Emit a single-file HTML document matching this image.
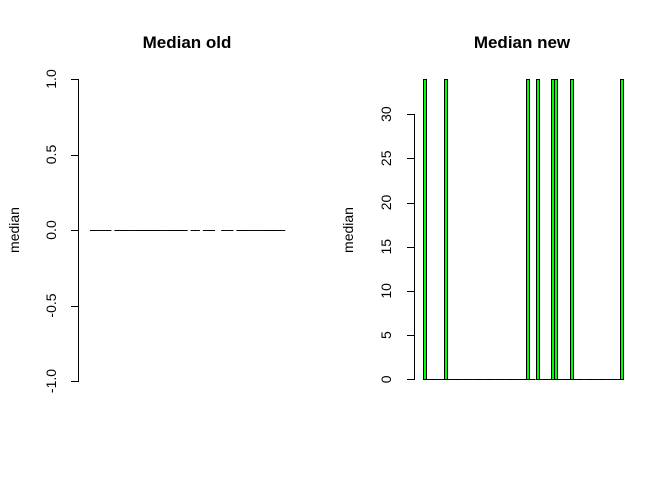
<!DOCTYPE html>
<html><head><meta charset="utf-8"><style>
body{margin:0;background:#fff}
svg{font-family:"Liberation Sans",Arial,sans-serif}
</style></head><body>
<svg width="672" height="480" viewBox="0 0 672 480">
<g id="left">
<text x="187" y="48" text-anchor="middle" font-weight="bold" font-size="17">Median old</text>
<text transform="translate(19,230) rotate(-90)" text-anchor="middle" font-size="14">median</text>
</g>
<g id="right">
<text x="522" y="48" text-anchor="middle" font-weight="bold" font-size="17">Median new</text>
<text transform="translate(353,230) rotate(-90)" text-anchor="middle" font-size="14">median</text>
</g>
</svg>
<script>
const NS="http://www.w3.org/2000/svg";
const oldTicks=[-1,-0.5,0,0.5,1];
const oldTickLabels=["-1.0","-0.5","0.0","0.5","1.0"];
const newTicks=[0,5,10,15,20,25,30];
const newTickLabels=["0","5","10","15","20","25","30"];
const nBars=64;
const oldMissing=[7,32,36,41,42,47];
const newHighIdx=[0,7,33,36,41,42,47,63];
const newHighVal=[34,34,34,34,34,34,34,34];
const oldValues=[];for(let i=0;i<nBars;i++)oldValues.push(oldMissing.includes(i)?null:0);
const newValues=[];for(let i=0;i<nBars;i++){const k=newHighIdx.indexOf(i);newValues.push(k>=0?newHighVal[k]:0);}
function mk(tag,at,parent){const e=document.createElementNS(NS,tag);for(const k in at)e.setAttribute(k,at[k]);parent.appendChild(e);return e;}
const L=document.getElementById('left'),R=document.getElementById('right');
const yL=v=>230-v*151, xL=i=>90+i*3.05;
let ax=mk('line',{x1:78.5,x2:78.5,y1:yL(1),y2:yL(-1),stroke:'#000'},L);

oldTicks.forEach((t,i)=>{
 const y=Math.round(yL(t))+0.5;
 const tk=mk('line',{x1:71,x2:79,y1:y,y2:y,stroke:'#000'},L);
 
 const tx=mk('text',{transform:`translate(56,${yL(t)}) rotate(-90)`,'text-anchor':'middle','font-size':14},L);
 tx.textContent=oldTickLabels[i];
 
});
oldValues.forEach((v,i)=>{
 if(v===null)return;
 const x0=xL(i),y0=Math.round(yL(0))+0.5,y1=Math.round(yL(v))+0.5;
 const r=mk('line',{x1:x0,x2:x0+3.1,y1:y0,y2:y1,stroke:'#000','stroke-width':1},L);
 
});
const yR=v=>379.3-v*8.84, xR=i=>422.5+i*3.14;
ax=mk('line',{x1:414.5,x2:414.5,y1:yR(0),y2:yR(30),stroke:'#000'},R);

newTicks.forEach((t,i)=>{
 const y=Math.round(yR(t))+0.5;
 const tk=mk('line',{x1:407,x2:415,y1:y,y2:y,stroke:'#000'},R);
 
 const tx=mk('text',{transform:`translate(391,${yR(t)}) rotate(-90)`,'text-anchor':'middle','font-size':14},R);
 tx.textContent=newTickLabels[i];
 
});
newValues.forEach((v,i)=>{
 const y0=Math.round(yR(0))+0.5,y1=Math.round(yR(v))+0.5;
 if(v===0){
  const x0=xR(i);
  const r=mk('line',{x1:x0,x2:x0+3.2,y1:y0,y2:y0,stroke:'#000','stroke-width':1},R);
  
  return;
 }
 const x0=Math.round(xR(i))+0.5;
 const r=mk('rect',{x:x0,y:Math.min(y0,y1),width:3,height:Math.abs(y1-y0),fill:'#00ff00',stroke:'#000','stroke-width':1},R);
 
});
</script>
</body></html>
